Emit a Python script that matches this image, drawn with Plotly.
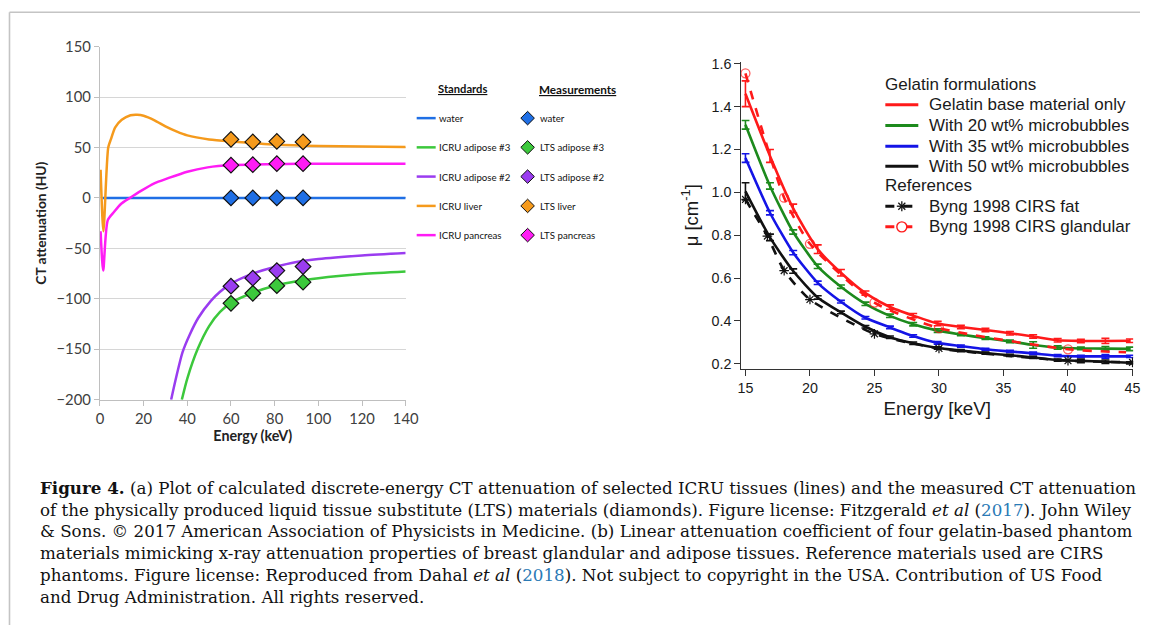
import plotly.graph_objects as go

W, H = 1153, 633
# the page is photographed slightly rescaled; map target pixel positions onto the page
SX, BX = 0.986, 3.0
SY, BY = 0.974, 8.3


def fx(x):
    return ((x - BX) / SX) / W


def fy(y):
    return 1 - ((y - BY) / SY) / H


# ---------------- (a) left panel data ----------------
E_water = [1.2, 140]
HU_water = [0, 0]

E_liver = [0.3, 1.6, 3.8, 5, 7, 10, 14, 17, 20, 25, 30, 35, 40, 50, 60, 70, 80, 100, 120, 140]
HU_liver = [28, -33, 50, 58, 70, 77.5, 82, 82.5, 81.5, 77, 71, 66, 62, 58, 56, 54.5, 53, 51.5, 51, 50.5]

E_pancreas = [0.3, 1.5, 3.6, 6.6, 9.6, 13.7, 18.8, 24.9, 31, 40, 49.3, 60, 80, 100, 140]
HU_pancreas = [-33, -72, -22, -13.5, -6, 0, 7, 14.5, 19.4, 26, 30.3, 32.6, 33.5, 34, 34]

E_adip2 = [32.6, 35, 37.8, 41, 45, 50.8, 55, 60, 70, 80, 90, 100, 120, 140]
HU_adip2 = [-200, -177, -153, -136, -119, -102, -93, -85, -75, -68.5, -63.5, -60.5, -57, -54.5]

E_adip3 = [37.5, 40, 44.7, 50, 55, 60, 70, 80, 90, 100, 120, 140]
HU_adip3 = [-200, -179, -150, -127, -113, -104, -94, -87, -82.5, -79.5, -75.5, -73]

E_meas = [60, 70, 81, 93]
meas_water = [0, 0, 0, 0]
meas_adip3 = [-104.5, -94.5, -87, -83.5]
meas_adip2 = [-87.5, -79.5, -72, -68]
meas_liver = [58, 55.5, 56, 55.5]
meas_pancreas = [32.5, 33, 34, 34]

std_names = ["water", "ICRU adipose #3", "ICRU adipose #2", "ICRU liver", "ICRU pancreas"]
meas_names = ["water", "LTS adipose #3", "LTS adipose #2", "LTS liver", "LTS pancreas"]
left_colors = ["#1f6fe5", "#3cc83c", "#9a3cf0", "#f59a1c", "#ff1cf5"]

# ---------------- (b) right panel data ----------------
E_gel = [15.0, 16.9, 18.7, 20.6, 22.4, 24.3, 26.2, 28.0, 29.9, 31.7, 33.6, 35.5, 37.3, 39.2, 41.0, 42.9, 44.8]
mu_base = [1.46, 1.17, 0.925, 0.735, 0.625, 0.53, 0.465, 0.425, 0.388, 0.372, 0.358, 0.343, 0.328, 0.31, 0.307, 0.307, 0.308]
mu_20 = [1.315, 1.03, 0.815, 0.655, 0.56, 0.48, 0.424, 0.385, 0.355, 0.337, 0.32, 0.305, 0.288, 0.276, 0.272, 0.271, 0.27]
mu_35 = [1.16, 0.905, 0.719, 0.578, 0.49, 0.415, 0.37, 0.33, 0.298, 0.283, 0.268, 0.258, 0.249, 0.238, 0.235, 0.235, 0.235]
mu_50 = [1.005, 0.79, 0.633, 0.51, 0.44, 0.373, 0.324, 0.296, 0.274, 0.262, 0.25, 0.24, 0.23, 0.218, 0.214, 0.21, 0.205]
err_base = [0.06, 0.03, 0.02, 0.02, 0.015, 0.01, 0.01, 0.01, 0.01, 0.008, 0.008, 0.008, 0.008, 0.008, 0.008, 0.012, 0.008]
err_20 = [0.02, 0.015, 0.01, 0.01, 0.008, 0.008, 0.008, 0.008, 0.008, 0.006, 0.006, 0.006, 0.015, 0.008, 0.006, 0.01, 0.008]
err_35 = [0.02, 0.01, 0.01, 0.008, 0.006, 0.006, 0.006, 0.006, 0.006, 0.005, 0.005, 0.005, 0.006, 0.005, 0.005, 0.008, 0.005]
err_50 = [0.04, 0.015, 0.01, 0.008, 0.006, 0.006, 0.006, 0.006, 0.006, 0.005, 0.005, 0.005, 0.005, 0.005, 0.008, 0.008, 0.005]

E_fat = [15, 16.7, 18, 20, 25, 30, 40, 45]
mu_fat = [0.967, 0.796, 0.635, 0.50, 0.34, 0.272, 0.215, 0.207]
E_gland = [15, 18, 20, 25, 30, 40, 44.5]
mu_gland = [1.555, 0.975, 0.76, 0.486, 0.367, 0.268, 0.254]

gel_names = ["Gelatin base material only", "With 20 wt% microbubbles",
             "With 35 wt% microbubbles", "With 50 wt% microbubbles"]
gel_colors = ["#ff1a1a", "#1d8a1d", "#1414e6", "#111111"]
ref_names = ["Byng 1998 CIRS fat", "Byng 1998 CIRS glandular"]

LFONT = "Lato, 'Open Sans', sans-serif"
RFONT = "'Liberation Sans', Arial, sans-serif"

fig = go.Figure()

# ---- left panel traces
for E, HU, c in [(E_water, HU_water, left_colors[0]), (E_adip3, HU_adip3, left_colors[1]),
                 (E_adip2, HU_adip2, left_colors[2]), (E_liver, HU_liver, left_colors[3]),
                 (E_pancreas, HU_pancreas, left_colors[4])]:
    fig.add_trace(go.Scatter(x=E, y=HU, mode="lines", line=dict(color=c, width=2.5, shape="spline", smoothing=0.7),
                             xaxis="x", yaxis="y", showlegend=False, hoverinfo="skip", cliponaxis=True))

for vals, c in [(meas_water, left_colors[0]), (meas_adip3, left_colors[1]), (meas_adip2, left_colors[2]),
                (meas_liver, left_colors[3]), (meas_pancreas, left_colors[4])]:
    fig.add_trace(go.Scatter(x=E_meas, y=vals, mode="markers",
                             marker=dict(symbol="diamond", size=12, color=c, line=dict(color="#111", width=1.2)),
                             xaxis="x", yaxis="y", showlegend=False, cliponaxis=False))

# ---- right panel traces
for mu, err, c in [(mu_base, err_base, gel_colors[0]), (mu_20, err_20, gel_colors[1]),
                   (mu_35, err_35, gel_colors[2]), (mu_50, err_50, gel_colors[3])]:
    fig.add_trace(go.Scatter(x=E_gel, y=mu, mode="lines", line=dict(color=c, width=2.6, shape="spline", smoothing=0.6),
                             error_y=dict(type="data", array=err, color=c, thickness=1.6, width=4),
                             xaxis="x2", yaxis="y2", showlegend=False))

fig.add_trace(go.Scatter(x=E_fat, y=mu_fat, mode="lines+markers",
                         line=dict(color="#111", width=2.6, dash="dash", shape="spline", smoothing=0.6),
                         marker=dict(symbol="asterisk-open", size=8, color="#111", line=dict(width=1.2, color="#111")),
                         xaxis="x2", yaxis="y2", showlegend=False))
fig.add_trace(go.Scatter(x=E_gland, y=mu_gland, mode="lines+markers",
                         line=dict(color="#ff1a1a", width=2.6, dash="dash", shape="spline", smoothing=0.6),
                         marker=dict(symbol="circle-open", size=[9, 9, 9, 9, 9, 9, 0], color="#ff1a1a",
                                     line=dict(width=1.3, color="#ff1a1a")),
                         xaxis="x2", yaxis="y2", showlegend=False, cliponaxis=False))

shapes = []
annotations = []

# ---- outer frame (top and left rule)
shapes.append(dict(type="line", xref="paper", yref="paper", x0=fx(8.5), x1=1, y0=fy(10.5), y1=fy(10.5),
                   line=dict(color="#c4c4c4", width=1.6)))
shapes.append(dict(type="line", xref="paper", yref="paper", x0=fx(8.5), x1=fx(8.5), y0=fy(10.5), y1=0,
                   line=dict(color="#c4c4c4", width=1.6)))

# ---- left legend (manual, two columns)
rows_l = [116.7, 146, 175.3, 204.7, 234]
annotations.append(dict(text="<b><u>Standards</u></b>", x=fx(461.5), y=fy(87), xref="paper", yref="paper",
                        showarrow=False, xanchor="center", yanchor="middle", font=dict(family=LFONT, size=11.2, color="#111")))
annotations.append(dict(text="<b><u>Measurements</u></b>", x=fx(577), y=fy(87), xref="paper", yref="paper",
                        showarrow=False, xanchor="center", yanchor="middle", font=dict(family=LFONT, size=11.7, color="#111")))
for r, c, sn, mn in zip(rows_l, left_colors, std_names, meas_names):
    shapes.append(dict(type="line", xref="paper", yref="paper", x0=fx(416), x1=fx(435), y0=fy(r), y1=fy(r),
                       line=dict(color=c, width=2.5)))
    annotations.append(dict(text=sn, x=fx(436), y=fy(r), xref="paper", yref="paper", showarrow=False,
                            xanchor="left", yanchor="middle", font=dict(family=LFONT, size=9.7, color="#111")))
    cx, hs = 527, 6.8
    path = "M{},{} L{},{} L{},{} L{},{} Z".format(fx(cx - hs), fy(r), fx(cx), fy(r - hs), fx(cx + hs), fy(r), fx(cx), fy(r + hs))
    shapes.append(dict(type="path", xref="paper", yref="paper", path=path, fillcolor=c,
                       line=dict(color="#111", width=1)))
    annotations.append(dict(text=mn, x=fx(537.5), y=fy(r), xref="paper", yref="paper", showarrow=False,
                            xanchor="left", yanchor="middle", font=dict(family=LFONT, size=9.7, color="#111")))

# ---- right legend (manual)
RL_FONT = dict(family=RFONT, size=17, color="#1a1a1a")
annotations.append(dict(text="Gelatin formulations", x=fx(882.5), y=fy(83), xref="paper", yref="paper",
                        showarrow=False, xanchor="left", yanchor="middle", font=RL_FONT))
annotations.append(dict(text="References", x=fx(882.5), y=fy(184.3), xref="paper", yref="paper",
                        showarrow=False, xanchor="left", yanchor="middle", font=RL_FONT))
rows_r = [103.3, 124, 145, 165]
for r, c, n in zip(rows_r, gel_colors, gel_names):
    shapes.append(dict(type="line", xref="paper", yref="paper", x0=fx(885), x1=fx(918), y0=fy(r), y1=fy(r),
                       line=dict(color=c, width=3)))
    annotations.append(dict(text=n, x=fx(926.5), y=fy(r), xref="paper", yref="paper", showarrow=False,
                            xanchor="left", yanchor="middle", font=RL_FONT))
for r, c, n in zip([205, 225.7], ["#111111", "#ff1a1a"], ref_names):
    shapes.append(dict(type="line", xref="paper", yref="paper", x0=fx(885), x1=fx(918), y0=fy(r), y1=fy(r),
                       line=dict(color=c, width=3, dash="dash")))
    annotations.append(dict(text=n, x=fx(926.5), y=fy(r), xref="paper", yref="paper", showarrow=False,
                            xanchor="left", yanchor="middle", font=RL_FONT))
# asterisk marker for fat
cx, r, a = 901.5, 205, 5
for dx, dy in [(a, 0), (0, a), (a * 0.7, a * 0.7), (a * 0.7, -a * 0.7)]:
    shapes.append(dict(type="line", xref="paper", yref="paper", x0=fx(cx - dx), x1=fx(cx + dx),
                       y0=fy(r - dy), y1=fy(r + dy), line=dict(color="#111", width=1.3)))
# open circle for glandular
cx, r, a = 901.5, 225.7, 5
shapes.append(dict(type="circle", xref="paper", yref="paper", x0=fx(cx - a), x1=fx(cx + a),
                   y0=fy(r + a), y1=fy(r - a), fillcolor="white", line=dict(color="#ff1a1a", width=1.4)))

# ---- caption (one text block)
BLUE = "#2a7ab5"
cap_lines = [
    "<b>Figure 4.</b> (a) Plot of calculated discrete-energy CT attenuation of selected ICRU tissues (lines) and the measured CT attenuation",
    "of the physically produced liquid tissue substitute (LTS) materials (diamonds). Figure license: Fitzgerald <i>et al</i> (<span style='color:%s'>2017</span>). John Wiley" % BLUE,
    "&amp; Sons. © 2017 American Association of Physicists in Medicine. (b) Linear attenuation coefficient of four gelatin-based phantom",
    "materials mimicking x-ray attenuation properties of breast glandular and adipose tissues. Reference materials used are CIRS",
    "phantoms. Figure license: Reproduced from Dahal <i>et al</i> (<span style='color:%s'>2018</span>). Not subject to copyright in the USA. Contribution of US Food" % BLUE,
    "and Drug Administration. All rights reserved.",
]
annotations.append(dict(text="<br>".join(cap_lines), x=fx(37), y=fy(542.5), xref="paper", yref="paper",
                        showarrow=False, xanchor="left", yanchor="middle", align="left",
                        font=dict(family="'DejaVu Serif', 'Liberation Serif', serif", size=16.7, color="#111")))

fig.update_layout(
    width=W, height=H, margin=dict(l=0, r=0, t=0, b=0),
    paper_bgcolor="white", plot_bgcolor="white", showlegend=False,
    xaxis=dict(domain=[fx(99), fx(405)], range=[0, 140], dtick=20, tick0=0, anchor="y",
               showline=True, linecolor="#bfbfbf", linewidth=1.2, ticks="outside", ticklen=5, tickcolor="#bfbfbf",
               showgrid=False, zeroline=False,
               tickfont=dict(family=LFONT, size=14.8, color="#404040"),
               title=dict(text="<b>Energy (keV)</b>", font=dict(family=LFONT, size=14.3, color="#222"), standoff=4)),
    yaxis=dict(domain=[fy(399), fy(45)], range=[-200, 150], dtick=50, tick0=0, anchor="x",
               showline=True, linecolor="#bfbfbf", linewidth=1.2, ticks="outside", ticklen=5, tickcolor="#bfbfbf",
               showgrid=True, gridcolor="#d6d6d6", gridwidth=1.2, zeroline=False,
               tickfont=dict(family=LFONT, size=14.8, color="#404040"),
               title=dict(text="<b>CT attenuation (HU)</b>", font=dict(family=LFONT, size=13.8, color="#222"), standoff=6)),
    xaxis2=dict(domain=[fx(741), fx(1133)], range=[14.69, 45.05], dtick=5, tick0=15, anchor="y2",
                showline=True, linecolor="#333", linewidth=1.4, ticks="outside", ticklen=6, tickwidth=1.4, tickcolor="#333",
                showgrid=False, zeroline=False,
                tickfont=dict(family=RFONT, size=14.3, color="#1a1a1a"),
                title=dict(text="Energy [keV]", font=dict(family=RFONT, size=18.8, color="#1a1a1a"), standoff=6)),
    yaxis2=dict(domain=[fy(368), fy(60)], range=[0.177, 1.61], dtick=0.2, tick0=0.2, tickformat=".1f", anchor="x2",
                showline=True, linecolor="#333", linewidth=1.4, ticks="outside", ticklen=6, tickwidth=1.4, tickcolor="#333",
                showgrid=False, zeroline=False,
                tickfont=dict(family=RFONT, size=14.3, color="#1a1a1a"),
                title=dict(text="μ [cm<sup>-1</sup>]", font=dict(family=RFONT, size=18.5, color="#1a1a1a"), standoff=8)),
    shapes=shapes, annotations=annotations,
)

fig.write_html(
    "out.html",
    config={"displayModeBar": False},
    post_script=(
        "document.body.style.margin='0';"
        "var gd=document.getElementsByClassName('plotly-graph-div')[0];"
        "gd.style.position='absolute';gd.style.top='0px';gd.style.left='0px';"
    ),
)
